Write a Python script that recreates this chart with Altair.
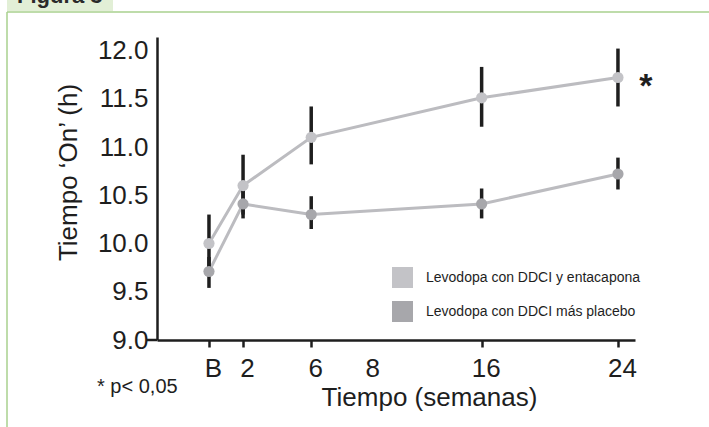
import altair as alt
import pandas as pd

# ---- data ----
weeks = [0, 2, 6, 16, 24]
series_names = ["Levodopa con DDCI y entacapona", "Levodopa con DDCI más placebo"]
ent_mean = [10.0, 10.6, 11.1, 11.51, 11.72]
ent_low = [9.7, 10.3, 10.82, 11.21, 11.42]
ent_high = [10.3, 10.92, 11.42, 11.83, 12.02]
plc_mean = [9.71, 10.41, 10.3, 10.41, 10.72]
plc_low = [9.54, 10.26, 10.15, 10.26, 10.56]
plc_high = [9.86, 10.56, 10.49, 10.57, 10.89]
x_tick_values = [0, 2, 6, 8, 16, 24]
y_tick_values = [9.0, 9.5, 10.0, 10.5, 11.0, 11.5, 12.0]
series_colors = ["#c3c3c7", "#a7a7ab"]

rows = []
for i, w in enumerate(weeks):
    rows.append({"week": w, "serie": series_names[0], "mean": ent_mean[i], "low": ent_low[i], "high": ent_high[i]})
for i, w in enumerate(weeks):
    rows.append({"week": w, "serie": series_names[1], "mean": plc_mean[i], "low": plc_low[i], "high": plc_high[i]})
df = pd.DataFrame(rows)
star_df = pd.DataFrame({"week": [weeks[-1]], "mean": [ent_mean[-1]]})
one = pd.DataFrame({"a": [0]})

FONT = "Liberation Sans"
INK = "#1e1e1e"

xscale = alt.Scale(domain=[-3.05, 25], nice=False, zero=False)
yscale = alt.Scale(domain=[9, 12.14], nice=False, zero=False)

xenc = alt.X(
    "week:Q", scale=xscale,
    axis=alt.Axis(
        values=x_tick_values,
        labelExpr="datum.value == 0 ? 'B' : datum.label",
        grid=False, tickSize=7, tickWidth=2.5, tickColor=INK,
        tickOpacity={"condition": {"test": "datum.value == 8", "value": 0}, "value": 1},
        labelOffset={"condition": {"test": "datum.value == 8", "value": 27}, "value": 4},
        domainWidth=2.5, domainColor=INK,
        labelFont=FONT, labelFontSize=26, labelColor=INK,
        labelBaseline="alphabetic", labelPadding=29,
        title="Tiempo (semanas)", titleFont=FONT, titleFontSize=26,
        titleFontWeight="normal", titleColor=INK,
        titleX=272, titleY=65, titleBaseline="alphabetic", titleAlign="center",
    ),
)
yenc_axis = alt.Axis(
    values=y_tick_values, format=".1f", grid=False, ticks=False,
    domainWidth=2.5, domainColor=INK,
    labelFont=FONT, labelFontSize=26, labelColor=INK, labelPadding=9,
    title="Tiempo ‘On’ (h)", titleFont=FONT, titleFontSize=26,
    titleFontWeight="normal", titleColor=INK,
    titleAngle=270, titleX=-81, titleY=135, titleBaseline="alphabetic", titleAlign="center",
)

base = alt.Chart(df)

lines = base.mark_line(color="#bcbcc0", strokeWidth=3).encode(
    x=xenc,
    y=alt.Y("mean:Q", scale=yscale, axis=yenc_axis),
    detail="serie:N",
)

bars = base.mark_rule(color=INK, strokeWidth=3.5).encode(
    x="week:Q", y="low:Q", y2="high:Q"
)

points = base.mark_point(filled=True, size=125, opacity=1, shape="circle").encode(
    x="week:Q",
    y="mean:Q",
    color=alt.Color(
        "serie:N",
        scale=alt.Scale(domain=series_names, range=series_colors),
        legend=alt.Legend(
            orient="none", legendX=235, legendY=230, title=None,
            symbolType="square", symbolSize=441, symbolStrokeWidth=0, symbolOpacity=1,
            labelFont=FONT, labelFontSize=14, labelColor=INK, labelOffset=13,
            labelLimit=0, rowPadding=13, padding=0,
        ),
    ),
)

star = alt.Chart(star_df).mark_text(
    text="*", font=FONT, fontSize=34, fontWeight="bold", color=INK,
    align="center", baseline="alphabetic", dx=28, dy=19,
).encode(x="week:Q", y="mean:Q")

pnote = alt.Chart(one).mark_text(
    text="* p< 0,05", font=FONT, fontSize=20, color=INK, align="left", baseline="alphabetic"
).encode(x=alt.value(-60), y=alt.value(356))

axis_ext = alt.Chart(one).mark_rule(color=INK, strokeWidth=2.5).encode(
    x=alt.value(-10), x2=alt.value(0), y=alt.value(303)
)

# frame decoration (green tab and border)
tab = alt.Chart(one).mark_rect(color="#e2efd6").encode(
    x=alt.value(-150), x2=alt.value(-44), y=alt.value(-37), y2=alt.value(-26)
)
tab_text = alt.Chart(one).mark_text(
    text="Figura 3", font=FONT, fontSize=22, fontWeight="bold", color="#2a2a2a",
    align="left", baseline="alphabetic"
).encode(x=alt.value(-140), y=alt.value(-34))
hline = alt.Chart(one).mark_rule(color="#a9d18e", strokeWidth=1.5).encode(
    x=alt.value(-150), x2=alt.value(560), y=alt.value(-25)
)
vline = alt.Chart(one).mark_rule(color="#a9d18e", strokeWidth=1.5).encode(
    x=alt.value(-150), y=alt.value(-25), y2=alt.value(400)
)

chart = alt.layer(
    tab, tab_text, hline, vline, lines, bars, points, star, pnote, axis_ext
).properties(
    width=478, height=303,
    autosize=alt.AutoSizeParams(type="none"),
    padding={"left": 157, "top": 37, "right": 74, "bottom": 87},
    background="white",
).configure_view(stroke=None)

chart.save("out.html", embed_options={"renderer": "svg", "actions": False})
